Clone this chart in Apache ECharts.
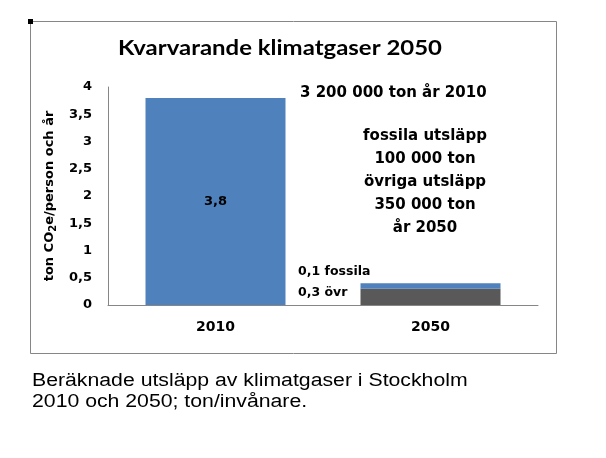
<!DOCTYPE html>
<html><head><meta charset="utf-8">
<script src="https://cdn.jsdelivr.net/npm/echarts@6/dist/echarts.min.js"></script>
<style>html,body{margin:0;padding:0;background:#fff}#c{width:606px;height:458px}</style>
</head><body><div id="c"></div>
<script>
const categories = ['2010', '2050'];
const ovrigaValues = [3.8, 0.3];
const fossilaValues = [null, 0.1];
const barLabels = ['3,8', ''];
const yTicks = ['0','0,5','1','1,5','2','2,5','3','3,5','4'];
const title = 'Kvarvarande klimatgaser 2050';
const noteTop = '3 200 000 ton år 2010';
const noteLines = ['fossila utsläpp','100 000 ton','övriga utsläpp','350 000 ton','år 2050'];
const smallNotes = ['0,1 fossila','0,3 övr'];
const caption = ['Beräknade utsläpp av klimatgaser i Stockholm','2010 och 2050; ton/invånare.'];

const BF = 'DejaVu Sans, Verdana, sans-serif';
const chart = echarts.init(document.getElementById('c'), null, {renderer:'canvas'});
const bold = {fontFamily:BF, fontWeight:'bold', color:'#000'};
chart.setOption({
  animation:false,
  backgroundColor:'#fff',
  grid:{left:108, right:68, top:87, bottom:153},
  xAxis:{type:'category', data:categories,
    axisLine:{lineStyle:{color:'#868686', width:1}}, axisTick:{show:false},
    axisLabel:Object.assign({fontSize:14, margin:15}, bold)},
  yAxis:{type:'value', min:0, max:4, interval:0.5,
    axisLine:{show:true, lineStyle:{color:'#868686', width:1}}, axisTick:{show:false}, splitLine:{show:false},
    axisLabel:Object.assign({fontSize:13, margin:16, formatter:(v)=>yTicks[Math.round(v*2)]}, bold),
    name:'{a|ton CO}{s|2}{a|e/person och år}', nameLocation:'middle', nameGap:40, nameRotate:90,
    nameTextStyle:Object.assign({fontSize:13, rich:{a:Object.assign({fontSize:13},bold), s:Object.assign({fontSize:10, padding:[0,0,-6,0]},bold)}}, bold)},
  series:[
    {type:'bar', stack:'s', data:ovrigaValues.map((v,i)=>({value:v, itemStyle:{color: i===0?'#4F81BD':'#595959'}})),
     barWidth:140,
     label:{show:true, position:'inside', formatter:(p)=>barLabels[p.dataIndex], fontSize:13, fontWeight:'bold', color:'#000', fontFamily:BF}},
    {type:'bar', stack:'s', data:fossilaValues, barWidth:140, itemStyle:{color:'#4F81BD'}}
  ],
  graphic:[
    {type:'rect', shape:{x:30.5, y:21.5, width:526, height:332}, style:{fill:'none', stroke:'#868686', lineWidth:1}, z:-1},
    {type:'rect', shape:{x:28, y:19, width:5, height:5}, style:{fill:'#000'}},
    {type:'text', x:280, y:48, scaleX:1.14, style:{text:title, font:'bold 21px Lato, Open Sans, sans-serif', fill:'#000', textAlign:'center', textVerticalAlign:'middle'}},
    {type:'text', x:300, y:93, style:{text:noteTop, font:'bold 15px '+BF, fill:'#000', textVerticalAlign:'middle'}},
    {type:'text', x:425, y:124.5, style:{text:noteLines.join('\n'), font:'bold 15px '+BF, fill:'#000', textAlign:'center', lineHeight:23}},
    {type:'text', x:298, y:272, style:{text:smallNotes[0], font:'bold 12.5px '+BF, fill:'#000', textVerticalAlign:'middle'}},
    {type:'text', x:298, y:293, style:{text:smallNotes[1], font:'bold 12.5px '+BF, fill:'#000', textVerticalAlign:'middle'}},
    {type:'text', x:32, y:371, scaleX:1.18, style:{text:caption.join('\n'), font:'18px Liberation Sans, Arial, sans-serif', fill:'#000', lineHeight:21}}
  ]
});
</script></body></html>
